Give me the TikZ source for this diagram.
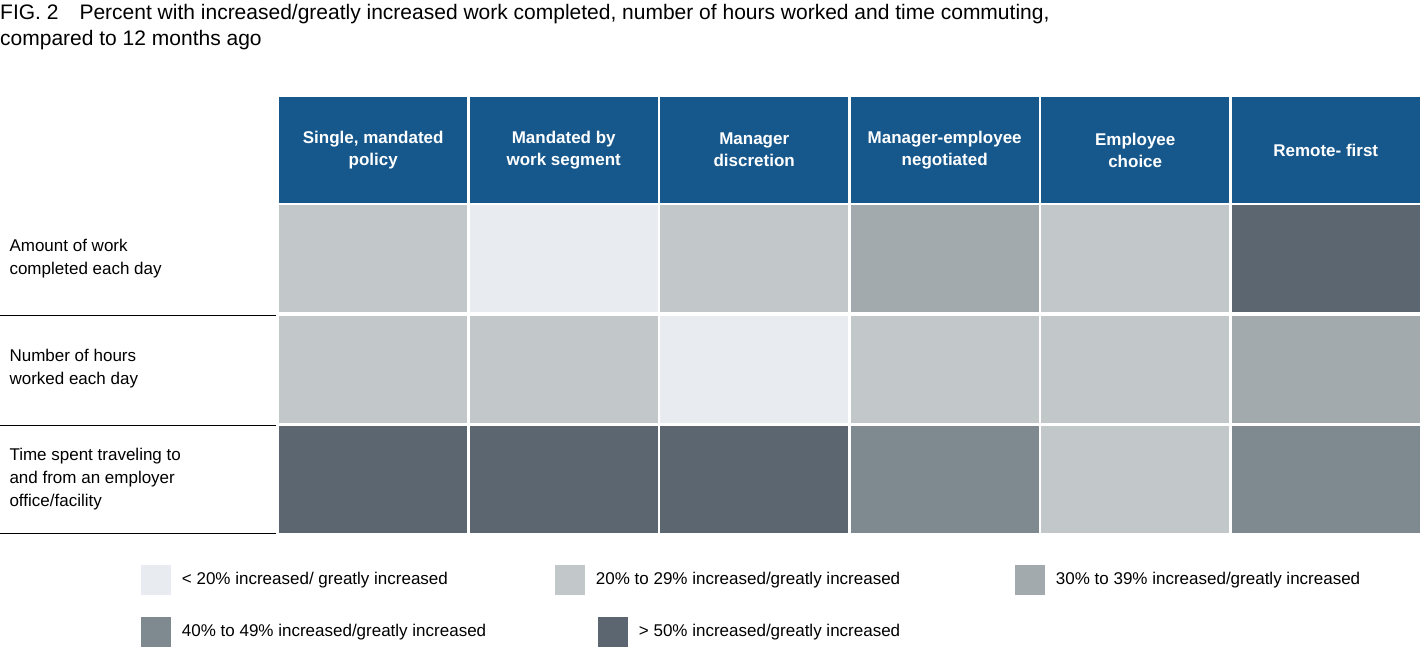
\documentclass[tikz,border=0pt]{standalone}
\usepackage{fontspec}
\setmainfont{Liberation Sans}
\usetikzlibrary{positioning}
\definecolor{headblue}{RGB}{22,87,140}
\definecolor{lvla}{RGB}{232,236,241}
\definecolor{lvlb}{RGB}{194,199,201}
\definecolor{lvlc}{RGB}{163,170,173}
\definecolor{lvld}{RGB}{127,137,144}
\definecolor{lvle}{RGB}{91,102,112}
\begin{document}
\begin{tikzpicture}[x=1pt,y=-1pt,
	head/.style={fill=headblue,text=white,font=\fontsize{17}{22}\selectfont\bfseries,align=center,minimum width=188pt,minimum height=106pt,inner sep=0pt,anchor=north west},
	cell/.style={minimum width=188pt,minimum height=107pt,inner sep=0pt,anchor=north west},
	rowlab/.style={font=\fontsize{17}{23}\selectfont,align=left,anchor=west},
	key/.style={minimum size=30pt,inner sep=0pt,anchor=north west},
	keylab/.style={font=\fontsize{17}{20}\selectfont,anchor=west}]
	\useasboundingbox (0,0) rectangle (1421,647);
	\node[anchor=north west,align=left,font=\fontsize{21}{26}\selectfont,inner sep=0pt] (title) at (0,4)
		{FIG. 2\quad Percent with increased/greatly increased work completed, number of hours worked and time commuting,\\compared to 12 months ago};
	% column heads
	\foreach \i/\t in {0/{Single, mandated\\policy},1/{Mandated by\\work segment},2/{Manager\\discretion},3/{Manager-employee\\negotiated},4/{Employee\\choice},5/{Remote- first}}
		\node[head] (h\i) at ({279+190.5*\i},97) {\t};
	% cells
	\foreach \r/\y/\row in {1/205/{lvlb,lvla,lvlb,lvlc,lvlb,lvle},2/316/{lvlb,lvlb,lvla,lvlb,lvlb,lvlc},3/426/{lvle,lvle,lvle,lvld,lvlb,lvld}}
		\foreach \c [count=\i from 0] in \row
			\node[cell,fill=\c] (c\r\i) at ({279+190.5*\i},\y) {};
	% row labels
	\node[rowlab] (r1) at (6,259) {Amount of work\\completed each day};
	\node[rowlab] (r2) at (6,369) {Number of hours\\worked each day};
	\node[rowlab] (r3) at (6,479) {Time spent traveling to\\and from an employer\\office/facility};
	\foreach \y in {315,425,533}
		\draw[line width=1pt] (0,\y) -- (276,\y);
	% legend
	\node[key,fill=lvla] (k1) at (141,565) {};
	\node[keylab,right=7pt of k1] {< 20\% increased/ greatly increased};
	\node[key,fill=lvlb] (k2) at (555,565) {};
	\node[keylab,right=7pt of k2] {20\% to 29\% increased/greatly increased};
	\node[key,fill=lvlc] (k3) at (1015,565) {};
	\node[keylab,right=7pt of k3] {30\% to 39\% increased/greatly increased};
	\node[key,fill=lvld] (k4) at (141,617) {};
	\node[keylab,right=7pt of k4] {40\% to 49\% increased/greatly increased};
	\node[key,fill=lvle] (k5) at (598,617) {};
	\node[keylab,right=7pt of k5] {> 50\% increased/greatly increased};
\end{tikzpicture}
\end{document}
